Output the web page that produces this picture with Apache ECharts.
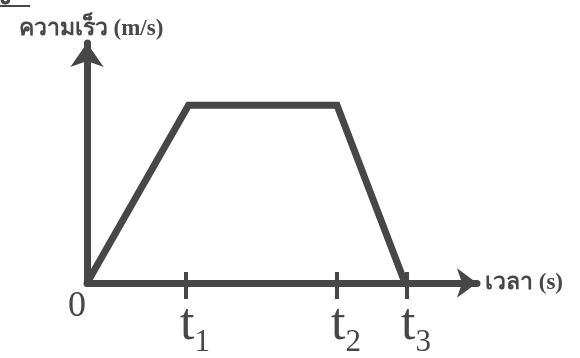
<!DOCTYPE html>
<html lang="th">
<head>
  <meta charset="UTF-8" />
  <title>ความเร็ว - เวลา</title>
  <style>
    html, body { margin: 0; padding: 0; background: #fff; }
    #chart { width: 580px; height: 358px; }
  </style>
</head>
<body>
  <div id="chart"></div>
  <script src="https://cdn.jsdelivr.net/npm/echarts@6/dist/echarts.min.js"></script>
  <script>
    // ค่าที่อ่านจากภาพ (หน่วยเวลาสมมติ, ความเร็วสูงสุด = 10)
    const timeValues = [0, 2.03, 5.0, 6.36];
    const speedValues = [0, 10, 10, 0];
    const tickValues = [1.98, 5.0, 6.4];
    const tickLabels = ['1', '2', '3'];
    const originLabel = ['0'];

    const ink = '#474747';
    const serif = "'Liberation Serif', 'DejaVu Serif', serif";

    const chart = echarts.init(document.getElementById('chart'));
    const points = timeValues.map((t, i) => [t, speedValues[i]]);

    const option = {
      animation: false,
      grid: { left: 87, right: 103, top: 43, bottom: 72 },
      xAxis: [{
        type: 'value',
        min: 0,
        max: 7.8,
        splitLine: { show: false },
        name: 'เวลา (s)',
        nameLocation: 'end',
        nameGap: 8,
        nameTextStyle: { color: ink, fontSize: 23, fontWeight: 'bold', fontFamily: serif, verticalAlign: 'middle', padding: [16, 0, 0, 0] },
        axisLine: {
          show: true,
          symbol: ['none', 'arrow'],
          symbolSize: [22, 20],
          lineStyle: { color: ink, width: 7 }
        },
        axisTick: {
          show: true,
          customValues: tickValues,
          length: 16,
          lineStyle: { color: ink, width: 4 }
        },
        axisLabel: {
          show: true,
          hideOverlap: false,
          customValues: tickValues,
          margin: 16,
          padding: [0, 0, 0, 18],
          formatter: (v) => '{t|t}{s|' + tickLabels[tickValues.indexOf(v)] + '}',
          rich: {
            t: { fontSize: 52, fontFamily: serif, color: ink, verticalAlign: 'top' },
            s: { fontSize: 31, fontFamily: serif, color: ink, padding: [28, 0, 0, 0] }
          }
        }
      }, {
        type: 'value',
        min: 0,
        max: 7.8,
        position: 'bottom',
        splitLine: { show: false },
        axisLine: { show: false },
        axisLabel: { show: false },
        axisTick: {
          show: true,
          inside: true,
          customValues: tickValues,
          length: 11,
          lineStyle: { color: ink, width: 4 }
        }
      }],
      yAxis: {
        type: 'value',
        min: 0,
        max: 13.5,
        splitLine: { show: false },
        name: 'ความเร็ว (m/s)',
        nameLocation: 'end',
        nameGap: 2,
        nameTextStyle: { color: ink, fontSize: 23, fontWeight: 'bold', fontFamily: serif, align: 'center', padding: [0, 0, 0, 8] },
        axisLine: {
          show: true,
          symbol: ['none', 'arrow'],
          symbolSize: [25, 24],
          lineStyle: { color: ink, width: 7 }
        },
        axisTick: { show: false },
        axisLabel: {
          show: true,
          customValues: [0],
          formatter: () => originLabel[0],
          margin: 1,
          verticalAlign: 'top',
          padding: [6, 0, 0, 0],
          fontSize: 36,
          fontFamily: serif,
          color: ink
        }
      },
      graphic: [
        { type: 'text', left: -2, top: -17, style: { text: 'ง', fontSize: 28, fontWeight: 'bold', fontFamily: serif, fill: ink } },
        { type: 'rect', left: 0, top: 5, shape: { width: 30, height: 2 }, style: { fill: ink } }
      ],
      series: [{
        type: 'line',
        data: points,
        symbol: 'none',
        clip: false,
        lineStyle: { color: ink, width: 7, join: 'miter' }
      }]
    };

    chart.setOption(option);
  </script>
</body>
</html>
